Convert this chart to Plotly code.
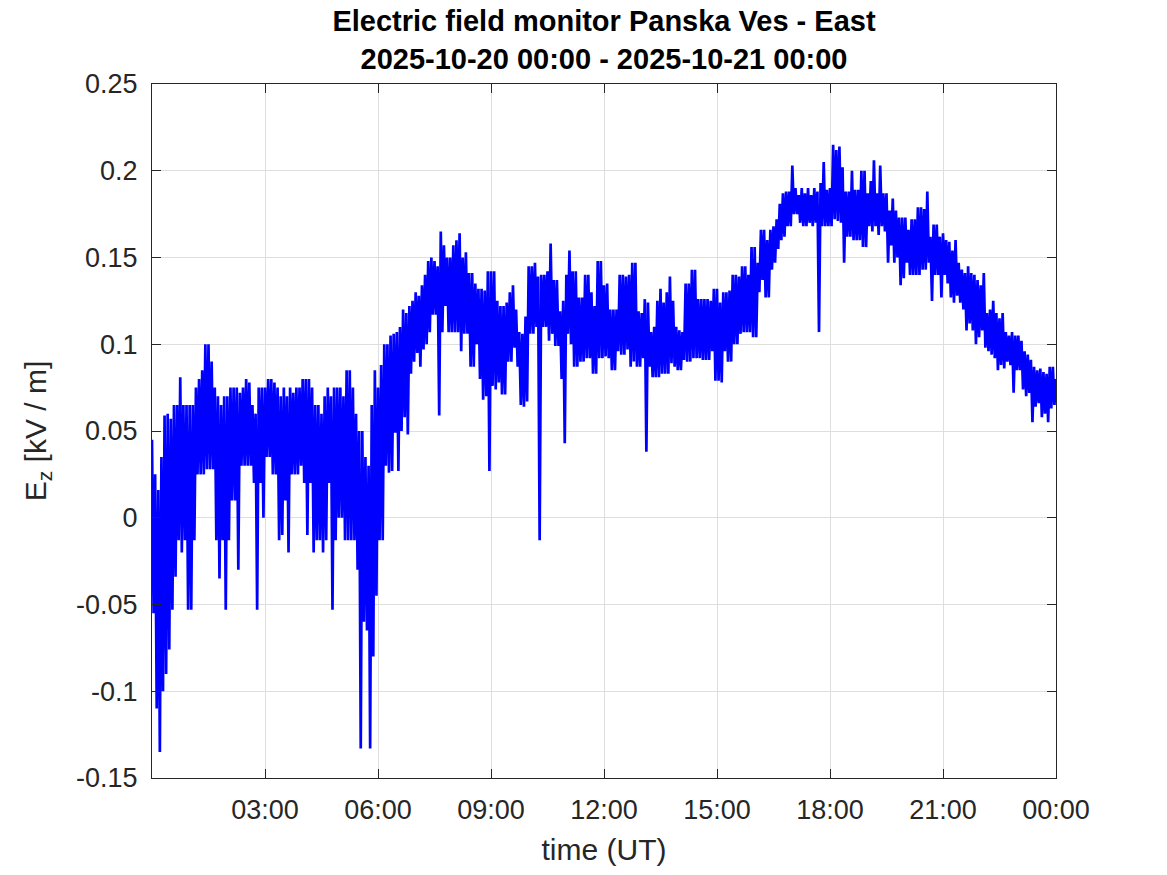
import pandas as pd
import plotly.graph_objects as go

# E_z: per 5-minute bin, the upper (hi) and lower (lo)
# extent of the trace, one list of 12 bins per hour (kV/m)
hi00 = [0.045, 0.025, 0.016, 0.035, 0.059, 0.06, 0.057, 0.065, 0.065, 0.081, 0.065, 0.065]
lo00 = [-0.055, -0.11, -0.135, -0.1, -0.09, -0.076, -0.053, -0.034, -0.013, -0.02, -0.013, -0.053]
hi01 = [0.065, 0.065, 0.075, 0.08, 0.085, 0.1, 0.1, 0.09, 0.075, 0.07, 0.065, 0.07]
lo01 = [-0.053, -0.013, 0.025, 0.025, 0.025, 0.028, 0.028, 0.028, -0.013, -0.035, -0.013, -0.053]
hi02 = [0.07, 0.075, 0.075, 0.075, 0.072, 0.075, 0.08, 0.078, 0.065, 0.06, 0.075, 0.075]
lo02 = [-0.013, 0.01, 0.01, -0.03, 0.03, 0.03, 0.03, 0.03, 0.02, -0.053, 0.02, 0.0]
hi03 = [0.075, 0.08, 0.08, 0.078, 0.075, 0.07, 0.075, 0.07, 0.075, 0.072, 0.075, 0.075]
lo03 = [0.035, 0.035, 0.025, 0.025, -0.013, -0.01, 0.01, -0.02, 0.025, 0.025, 0.025, 0.03]
hi04 = [0.08, 0.08, 0.08, 0.075, 0.065, 0.065, 0.06, 0.07, 0.075, 0.07, 0.075, 0.075]
lo04 = [0.02, -0.01, 0.02, -0.02, -0.013, -0.013, -0.02, -0.013, 0.02, -0.053, -0.013, 0.0]
hi05 = [0.075, 0.07, 0.085, 0.085, 0.075, 0.06, 0.05, 0.05, 0.035, 0.03, 0.065, 0.085]
lo05 = [0.0, -0.013, -0.013, -0.013, -0.013, -0.03, -0.133, -0.06, -0.065, -0.133, -0.08, -0.045]
hi06 = [0.075, 0.088, 0.1, 0.1, 0.105, 0.106, 0.107, 0.11, 0.12, 0.118, 0.122, 0.125]
lo06 = [-0.013, -0.013, 0.03, 0.026, 0.027, 0.049, 0.027, 0.05, 0.058, 0.048, 0.083, 0.09]
hi07 = [0.13, 0.128, 0.134, 0.14, 0.148, 0.15, 0.148, 0.145, 0.165, 0.157, 0.15, 0.15]
lo07 = [0.095, 0.087, 0.097, 0.1, 0.107, 0.117, 0.117, 0.059, 0.107, 0.122, 0.107, 0.107]
hi08 = [0.157, 0.16, 0.164, 0.15, 0.153, 0.141, 0.141, 0.135, 0.132, 0.132, 0.131, 0.142]
lo08 = [0.107, 0.107, 0.096, 0.106, 0.106, 0.087, 0.087, 0.1, 0.08, 0.068, 0.07, 0.027]
hi09 = [0.142, 0.142, 0.125, 0.122, 0.122, 0.124, 0.13, 0.134, 0.12, 0.107, 0.106, 0.116]
lo09 = [0.076, 0.074, 0.078, 0.071, 0.071, 0.09, 0.09, 0.098, 0.087, 0.065, 0.064, 0.067]
hi10 = [0.145, 0.145, 0.147, 0.139, 0.14, 0.14, 0.142, 0.158, 0.137, 0.137, 0.119, 0.125]
lo10 = [0.106, 0.106, 0.11, -0.013, 0.11, 0.11, 0.102, 0.106, 0.099, 0.099, 0.08, 0.043]
hi11 = [0.14, 0.154, 0.142, 0.142, 0.127, 0.127, 0.14, 0.14, 0.13, 0.122, 0.148, 0.148]
lo11 = [0.106, 0.1, 0.087, 0.087, 0.09, 0.09, 0.092, 0.092, 0.083, 0.083, 0.092, 0.092]
hi12 = [0.134, 0.135, 0.12, 0.12, 0.12, 0.14, 0.14, 0.139, 0.14, 0.147, 0.147, 0.119]
lo12 = [0.093, 0.092, 0.085, 0.085, 0.096, 0.094, 0.094, 0.097, 0.087, 0.09, 0.087, 0.087]
hi13 = [0.118, 0.126, 0.124, 0.107, 0.11, 0.125, 0.132, 0.124, 0.13, 0.139, 0.125, 0.11]
lo13 = [0.092, 0.038, 0.087, 0.081, 0.081, 0.081, 0.083, 0.083, 0.083, 0.089, 0.087, 0.085]
hi14 = [0.108, 0.107, 0.135, 0.135, 0.143, 0.143, 0.126, 0.126, 0.126, 0.126, 0.125, 0.132]
lo14 = [0.085, 0.091, 0.09, 0.09, 0.092, 0.092, 0.092, 0.091, 0.091, 0.091, 0.096, 0.079]
hi15 = [0.132, 0.124, 0.13, 0.13, 0.131, 0.14, 0.14, 0.139, 0.145, 0.145, 0.14, 0.156]
lo15 = [0.079, 0.078, 0.096, 0.09, 0.09, 0.1, 0.1, 0.106, 0.107, 0.107, 0.107, 0.104]
hi16 = [0.156, 0.147, 0.166, 0.166, 0.16, 0.166, 0.168, 0.172, 0.181, 0.187, 0.188, 0.188]
lo16 = [0.104, 0.13, 0.137, 0.127, 0.127, 0.143, 0.147, 0.155, 0.16, 0.162, 0.168, 0.168]
hi17 = [0.203, 0.19, 0.186, 0.19, 0.187, 0.19, 0.186, 0.19, 0.188, 0.193, 0.205, 0.189]
lo17 = [0.175, 0.175, 0.17, 0.168, 0.168, 0.17, 0.168, 0.17, 0.107, 0.168, 0.168, 0.168]
hi18 = [0.19, 0.215, 0.212, 0.214, 0.202, 0.188, 0.188, 0.2, 0.189, 0.189, 0.2, 0.2]
lo18 = [0.168, 0.172, 0.171, 0.17, 0.147, 0.162, 0.162, 0.16, 0.16, 0.16, 0.156, 0.156]
hi19 = [0.187, 0.194, 0.206, 0.187, 0.203, 0.187, 0.187, 0.177, 0.184, 0.177, 0.173, 0.173]
lo19 = [0.168, 0.165, 0.168, 0.163, 0.168, 0.165, 0.147, 0.157, 0.147, 0.15, 0.134, 0.138]
hi20 = [0.173, 0.166, 0.172, 0.172, 0.179, 0.179, 0.178, 0.188, 0.162, 0.169, 0.169, 0.162]
lo20 = [0.147, 0.14, 0.14, 0.14, 0.14, 0.143, 0.143, 0.147, 0.125, 0.14, 0.14, 0.127]
hi21 = [0.164, 0.16, 0.159, 0.154, 0.16, 0.147, 0.143, 0.141, 0.145, 0.141, 0.14, 0.137]
lo21 = [0.14, 0.135, 0.127, 0.124, 0.128, 0.124, 0.12, 0.108, 0.112, 0.108, 0.1, 0.104]
hi22 = [0.134, 0.141, 0.118, 0.12, 0.125, 0.118, 0.115, 0.118, 0.107, 0.105, 0.107, 0.105]
lo22 = [0.108, 0.098, 0.096, 0.094, 0.092, 0.085, 0.088, 0.086, 0.09, 0.088, 0.072, 0.085]
hi23 = [0.105, 0.102, 0.096, 0.094, 0.091, 0.087, 0.085, 0.086, 0.084, 0.083, 0.087, 0.087]
lo23 = [0.085, 0.074, 0.07, 0.072, 0.055, 0.064, 0.066, 0.058, 0.06, 0.055, 0.063, 0.065]
last_value = [0.08]

his = [hi00, hi01, hi02, hi03, hi04, hi05, hi06, hi07, hi08, hi09, hi10, hi11,
       hi12, hi13, hi14, hi15, hi16, hi17, hi18, hi19, hi20, hi21, hi22, hi23]
los = [lo00, lo01, lo02, lo03, lo04, lo05, lo06, lo07, lo08, lo09, lo10, lo11,
       lo12, lo13, lo14, lo15, lo16, lo17, lo18, lo19, lo20, lo21, lo22, lo23]

ez = []
for hh, ll in zip(his, los):
    for a, b in zip(hh, ll):
        ez.extend([a, b])
ez.extend(last_value)
t = pd.date_range("2025-10-20 00:00", periods=len(ez), freq="150s")

x_ticks = pd.date_range("2025-10-20 03:00", "2025-10-21 00:00", freq="3h")
x_labels = ["03:00", "06:00", "09:00", "12:00", "15:00", "18:00", "21:00", "00:00"]
y_ticks = [-0.15, -0.1, -0.05, 0, 0.05, 0.1, 0.15, 0.2, 0.25]
y_labels = ["-0.15", "-0.1", "-0.05", "0", "0.05", "0.1", "0.15", "0.2", "0.25"]

FONT = "Liberation Sans, Arial, Helvetica, sans-serif"
AX = "#262626"

fig = go.Figure()
fig.add_trace(go.Scatter(x=t, y=ez, mode="lines",
                         line=dict(color="#0000ff", width=2.7), showlegend=False))

axis_common = dict(showline=True, linecolor=AX, linewidth=1, mirror="ticks",
                   ticks="inside", ticklen=9, tickcolor=AX,
                   showgrid=True, gridcolor="#dedede", gridwidth=1,
                   zeroline=False, tickfont=dict(family=FONT, size=27, color=AX),
                   ticklabelstandoff=8)

fig.update_layout(
    width=1167, height=875,
    margin=dict(l=152, r=111, t=84, b=97),
    paper_bgcolor="white", plot_bgcolor="white",
    title=dict(text="<b>Electric field monitor Panska Ves - East<br>2025-10-20 00:00 - 2025-10-21 00:00</b>",
               x=0.5, xref="paper", xanchor="center",
               y=1 - 31 / 875, yanchor="middle",
               font=dict(family=FONT, size=29, color="black")),
    xaxis=dict(range=[pd.Timestamp("2025-10-20 00:00"), pd.Timestamp("2025-10-21 00:00")],
               tickvals=x_ticks, ticktext=x_labels,
               title=dict(text="time (UT)", font=dict(family=FONT, size=30, color=AX), standoff=14),
               **axis_common),
    yaxis=dict(range=[-0.15, 0.25], tickvals=y_ticks, ticktext=y_labels,
               title=dict(text="E<sub>z</sub> [kV / m]", font=dict(family=FONT, size=30, color=AX), standoff=20),
               **axis_common),
)

# the page has no body margin, so the figure fills the 1167x875 window exactly
fig.write_html("out.html", config={"displayModeBar": False},
               post_script="document.body.style.margin='0';")
